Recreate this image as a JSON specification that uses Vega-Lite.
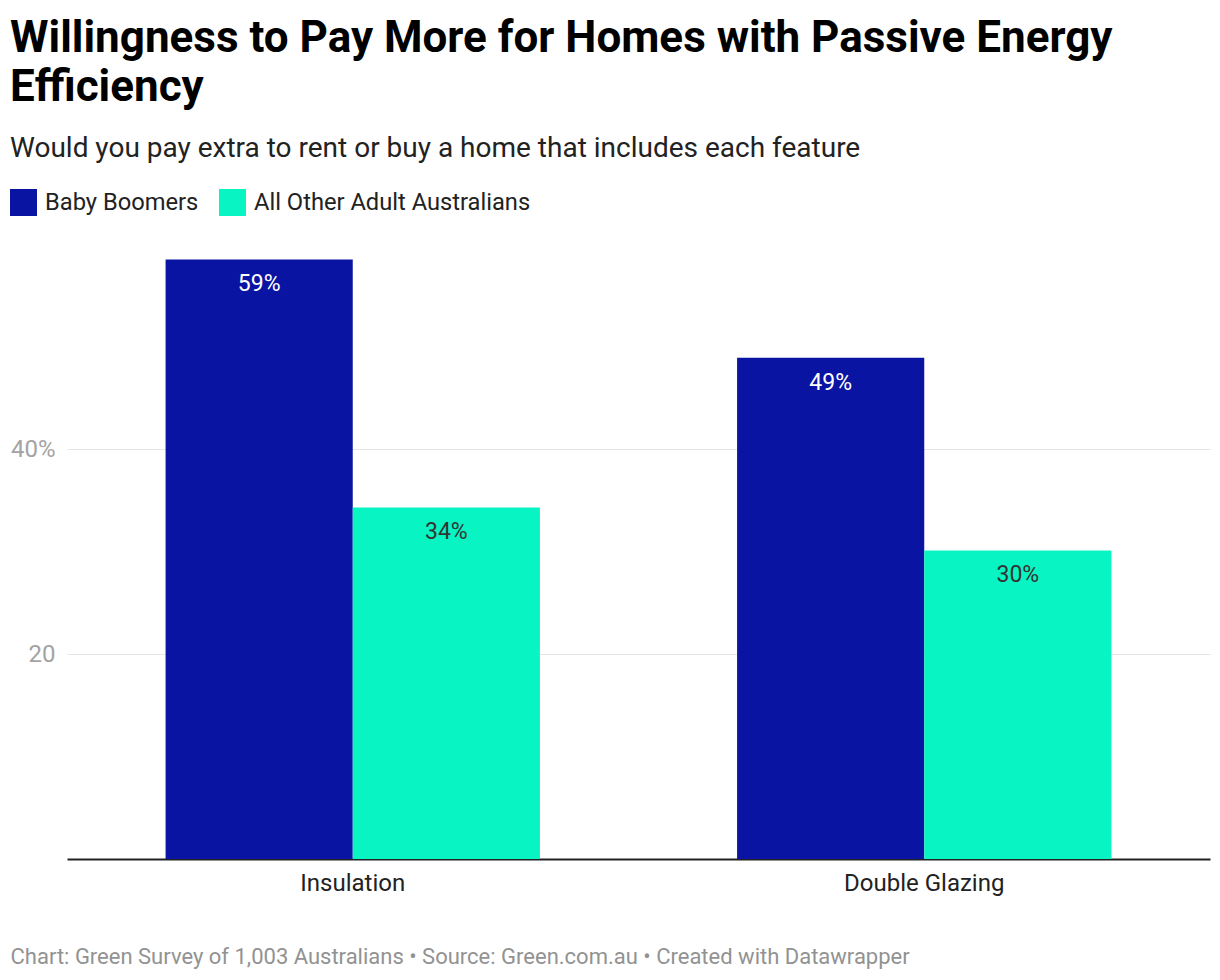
{
  "$schema": "https://vega.github.io/schema/vega-lite/v6.json",
  "autosize": {"type": "none"},
  "width": 1143,
  "height": 615,
  "padding": {"left": 67, "top": 244, "right": 10, "bottom": 121},
  "background": "white",
  "config": {
    "font": "Roboto",
    "view": {"stroke": null}
  },
  "title": {
    "text": ["Willingness to Pay More for Homes with Passive Energy", "Efficiency"],
    "subtitle": "Would you pay extra to rent or buy a home that includes each feature",
    "anchor": "start",
    "frame": "group",
    "dx": -57,
    "font": "Roboto",
    "fontSize": 44,
    "fontWeight": "bold",
    "lineHeight": 49,
    "color": "#000000",
    "subtitleFont": "Roboto",
    "subtitleFontSize": 28,
    "subtitleColor": "#222222",
    "subtitlePadding": 25,
    "offset": 26
  },
  "data": {
    "values": [
      {"feature": "Insulation", "group": "Baby Boomers", "value": 58.5, "label": "59%"},
      {"feature": "Insulation", "group": "All Other Adult Australians", "value": 34.3, "label": "34%"},
      {"feature": "Double Glazing", "group": "Baby Boomers", "value": 48.9, "label": "49%"},
      {"feature": "Double Glazing", "group": "All Other Adult Australians", "value": 30.1, "label": "30%"}
    ]
  },
  "encoding": {
    "x": {
      "field": "feature",
      "type": "nominal",
      "sort": null,
      "scale": {"paddingInner": 0.345, "paddingOuter": 0.1725},
      "axis": {
        "title": "Chart: Green Survey of 1,003 Australians • Source: Green.com.au • Created with Datawrapper",
        "titleAnchor": "start",
        "titleAlign": "left",
        "titleX": -57,
        "titleY": 97,
        "titleBaseline": "middle",
        "titleFont": "Roboto",
        "titleFontSize": 22,
        "titleFontWeight": "normal",
        "titleColor": "#929292",
        "labelAngle": 0,
        "labelFont": "Roboto",
        "labelFontSize": 24,
        "labelColor": "#222222",
        "labelPadding": 12,
        "ticks": false,
        "domainColor": "#222222",
        "domainWidth": 2
      }
    },
    "xOffset": {
      "field": "group",
      "type": "nominal",
      "sort": ["Baby Boomers", "All Other Adult Australians"],
      "scale": {"paddingInner": 0, "paddingOuter": 0}
    },
    "y": {
      "field": "value",
      "type": "quantitative",
      "scale": {"domain": [0, 60], "nice": false},
      "axis": {
        "title": null,
        "values": [20, 40],
        "labelExpr": "datum.value == 40 ? '40%' : datum.label",
        "labelFont": "Roboto",
        "labelFontSize": 24,
        "labelColor": "#a3a3a3",
        "labelPadding": 12,
        "ticks": false,
        "domain": false,
        "grid": true,
        "gridColor": "#e5e5e5",
        "gridWidth": 1
      }
    }
  },
  "layer": [
    {
      "mark": {"type": "bar"},
      "encoding": {
        "color": {
          "field": "group",
          "type": "nominal",
          "sort": ["Baby Boomers", "All Other Adult Australians"],
          "scale": {"domain": ["Baby Boomers", "All Other Adult Australians"], "range": ["#0a14a3", "#08f4c2"]},
          "legend": {
            "title": null,
            "orient": "none",
            "legendX": -57,
            "legendY": -55,
            "direction": "horizontal",
            "symbolType": "square",
            "symbolSize": 729,
            "symbolStrokeWidth": 0,
            "symbolOpacity": 1,
            "labelFont": "Roboto",
            "labelFontSize": 23.7,
            "labelColor": "#222222",
            "labelOffset": 8,
            "columnPadding": 20,
            "labelLimit": 400
          }
        }
      }
    },
    {
      "mark": {"type": "text", "dy": 25, "baseline": "middle", "align": "center", "font": "Roboto", "fontSize": 23},
      "encoding": {
        "text": {"field": "label"},
        "color": {
          "condition": {"test": "datum.group === 'Baby Boomers'", "value": "#ffffff"},
          "value": "#333333"
        }
      }
    }
  ]
}
